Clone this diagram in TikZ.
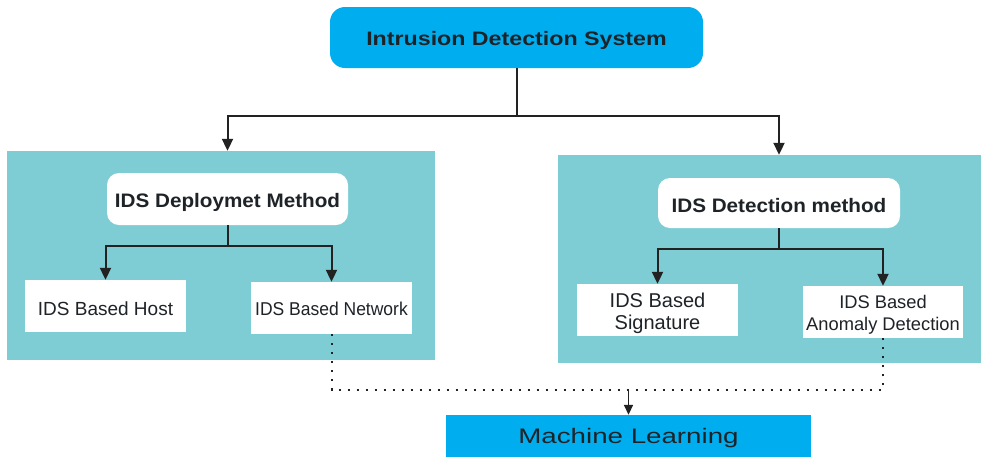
\documentclass[tikz,border=0pt]{standalone}
\usepackage{fontspec}
\setmainfont{Liberation Sans}
\newfontfamily\stretchtop[FakeStretch=1.19]{Liberation Sans}
\newfontfamily\stretchhead[FakeStretch=1.06]{Liberation Sans}
\newfontfamily\stretchnet[FakeStretch=0.94]{Liberation Sans}
\newfontfamily\stretchml[FakeStretch=1.32]{Liberation Sans}
\newcommand{\twolines}[3]{\raisebox{#1}[0pt][0pt]{\begin{tabular}[t]{@{}c@{}}#2\\#3\end{tabular}}}
\usetikzlibrary{arrows.meta,calc}
\definecolor{topblue}{HTML}{00AEEF}
\definecolor{panelc}{HTML}{7ECDD5}
\definecolor{ink}{HTML}{1E2328}
\definecolor{linec}{HTML}{222222}
\tikzset{
  topbox/.style={fill=topblue, rounded corners=15pt, inner sep=0pt, text=ink},
  panel/.style={fill=panelc, inner sep=0pt},
  headbox/.style={fill=white, rounded corners=12pt, inner sep=0pt, text=ink, font=\stretchhead\fontsize{19.5}{23}\selectfont\bfseries},
  leafbox/.style={fill=white, inner sep=0pt, text=ink, font=\fontsize{19}{22}\selectfont, minimum width=161pt, minimum height=52pt},
  conn/.style={draw=linec, line width=2pt},
  arr/.style={conn, -{Triangle[width=11pt,length=12pt]}},
  dots/.style={draw=linec, line width=2pt, dash pattern=on 2pt off 7pt}
}
\begin{document}
\begin{tikzpicture}[x=1pt,y=-1pt]
\useasboundingbox (0,0) rectangle (981,456);
\fill[white] (0,0) rectangle (981,456);
\node[panel, minimum width=428pt, minimum height=209pt] (lpanel) at (221,255.5) {};
\node[panel, minimum width=423pt, minimum height=208pt] (rpanel) at (769.5,259) {};
\node[topbox, minimum width=373pt, minimum height=61pt, text height=15pt, text depth=0pt, font=\stretchtop\fontsize{19.5}{24}\selectfont\bfseries] (ids) at (516.5,37.5) {Intrusion Detection System};
\node[headbox, minimum width=241pt, minimum height=52pt, text height=16pt, text depth=0pt] (dep) at (227.5,199) {IDS Deploymet Method};
\node[headbox, minimum width=242pt, minimum height=50pt, text height=18pt, text depth=0pt] (det) at (779,203) {IDS Detection method};
\node[leafbox, text height=18pt, text depth=0pt] (host) at (105.5,306) {IDS Based Host};
\node[leafbox, text height=14pt, text depth=0pt, font=\stretchnet\fontsize{18.6}{22}\selectfont] (net) at (331.5,308) {IDS Based Network};
\node[leafbox, font=\fontsize{20}{22}\selectfont] (sig) at (657.5,310) {\twolines{2.3pt}{IDS Based}{Signature}};
\node[leafbox, minimum width=160pt, font=\fontsize{18.3}{22}\selectfont] (anom) at (883,312) {\twolines{4pt}{IDS Based}{Anomaly Detection}};
\node[fill=topblue, inner sep=0pt, minimum width=365pt, minimum height=42pt, text height=14pt, text depth=0pt, text=ink, font=\stretchml\fontsize{21}{25}\selectfont] (ml) at (628.5,436) {Machine Learning};
% top connectors
\coordinate (j0) at ($(ids.south)+(0,48)$);
\draw[conn] (ids.south) -- (j0);
\draw[arr] (j0) -| (dep.north |- lpanel.north);
\draw[arr] (j0) -| (det.north |- rpanel.north);
% left connectors
\coordinate (j1) at ($(dep.south)+(0,21)$);
\draw[conn] (dep.south) -- (j1);
\draw[arr] (j1) -| (host.north);
\draw[arr] (j1) -| (net.north);
% right connectors
\coordinate (j2) at ($(det.south)+(0,21)$);
\draw[conn] (det.south) -- (j2);
\draw[arr] (j2) -| (sig.north);
\draw[arr] (j2) -| (anom.north);
% dotted to ML
\coordinate (dl) at (net.south |- 0,390);
\coordinate (dr) at (anom.south |- 0,390);
\draw[dots] (net.south) -- (dl) -- (dr) -- (anom.south);
\coordinate (dm) at (ml.north |- 0,390);
\draw[arr, line width=1.6pt, -{Triangle[width=9pt,length=10pt]}] (dm) -- (ml.north);
\end{tikzpicture}
\end{document}
